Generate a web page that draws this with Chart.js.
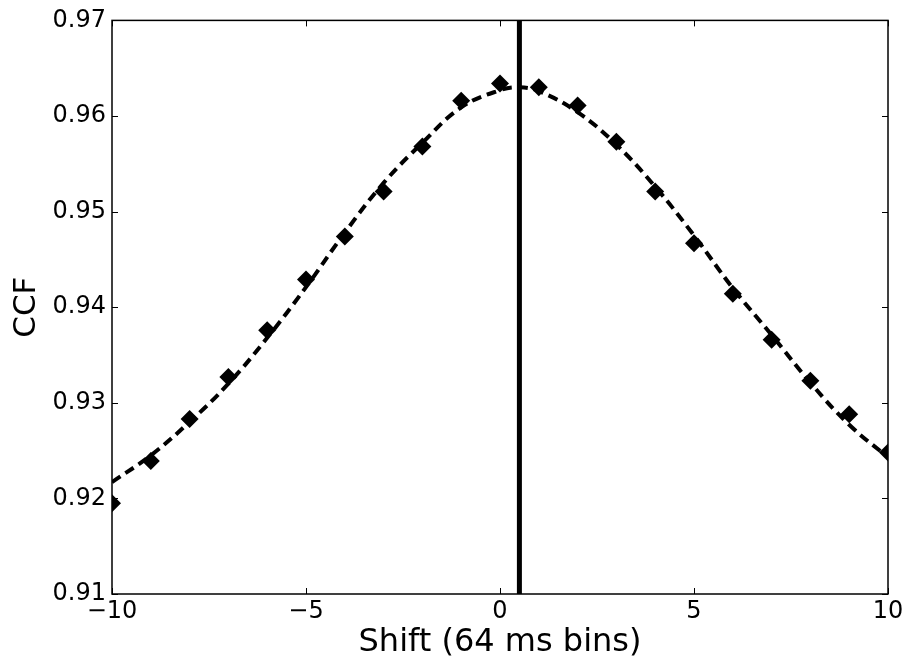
<!DOCTYPE html>
<html>
<head>
<meta charset="utf-8">
<script src="https://cdn.jsdelivr.net/npm/chart.js@4.4.1/dist/chart.umd.min.js"></script>
<style>
  html, body { margin: 0; padding: 0; background: #fff; }
  #wrap { width: 910px; height: 662px; }
</style>
</head>
<body>
<div id="wrap"><canvas id="c" width="910" height="662"></canvas></div>
<script>
// Measured CCF values at integer shifts
const shifts = [-10,-9,-8,-7,-6,-5,-4,-3,-2,-1,0,1,2,3,4,5,6,7,8,9,10];
const ccf = [0.9195,0.9239,0.9283,0.9327,0.9376,0.9429,0.9474,0.9521,0.9568,0.9616,0.9634,
             0.9630,0.9611,0.9573,0.9521,0.9467,0.9414,0.9366,0.9323,0.9288,0.9248];
// Dashed fit curve
const fitX = [-10,-9,-8,-7,-6,-5,-4,-3,-2,-1,0,0.5,1,2,3,4,5,6,7,8,9,10];
const fitY = [0.9217,0.9245,0.9280,0.9320,0.9368,0.9421,0.9478,0.9530,0.9572,0.9609,0.9627,0.9630,
              0.9626,0.9604,0.9570,0.9526,0.9475,0.9420,0.9371,0.9321,0.9277,0.9243];
// Vertical marker line
const markerX = [0.5, 0.5];
const markerY = [0.91, 0.97];
// Axis tick values
const xTicks = [-10,-5,0,5,10];
const yTicks = [0.91,0.92,0.93,0.94,0.95,0.96,0.97];

const FONT = "'DejaVu Sans', sans-serif";

const frame = {
  id: 'frame',
  afterDatasetsDraw(chart) {
    const {ctx, chartArea: a, scales} = chart;
    ctx.save();
    ctx.strokeStyle = '#000';
    ctx.lineWidth = 1;
    const L = 6;
    ctx.beginPath();
    scales.x.ticks.forEach(t => {
      const px = Math.round(scales.x.getPixelForValue(t.value)) + 0.5;
      ctx.moveTo(px, a.bottom); ctx.lineTo(px, a.bottom - L);
      ctx.moveTo(px, a.top); ctx.lineTo(px, a.top + L);
    });
    scales.y.ticks.forEach(t => {
      const py = Math.round(scales.y.getPixelForValue(t.value)) + 0.5;
      ctx.moveTo(a.left, py); ctx.lineTo(a.left + L, py);
      ctx.moveTo(a.right, py); ctx.lineTo(a.right - L, py);
    });
    ctx.stroke();
    ctx.lineWidth = 1.5;
    ctx.strokeRect(a.left, a.top, a.right - a.left, a.bottom - a.top);
    ctx.restore();
  }
};

new Chart(document.getElementById('c'), {
  type: 'scatter',
  data: {
    datasets: [
      {
        label: 'CCF',
        data: shifts.map((x, i) => ({x, y: ccf[i]})),
        pointStyle: 'rectRot',
        pointRadius: 9,
        backgroundColor: '#000',
        borderColor: '#000',
        borderWidth: 0,
        showLine: false,
        order: 1
      },
      {
        label: 'fit',
        data: fitX.map((x, i) => ({x, y: fitY[i]})),
        showLine: true,
        pointRadius: 0,
        borderColor: '#000',
        borderWidth: 4,
        borderDash: [10, 6],
        tension: 0.4,
        order: 3
      },
      {
        label: 'marker',
        data: markerX.map((x, i) => ({x, y: markerY[i]})),
        showLine: true,
        pointRadius: 0,
        borderColor: '#000',
        borderWidth: 5,
        order: 2
      }
    ]
  },
  options: {
    responsive: false,
    animation: false,
    layout: { padding: { top: 20, right: 22, left: 0, bottom: 0 } },
    plugins: { legend: { display: false }, tooltip: { enabled: false } },
    scales: {
      x: {
        type: 'linear',
        min: -10, max: 10,
        afterBuildTicks: s => { s.ticks = xTicks.map(v => ({value: v})); },
        afterFit: s => { s.height = 68; },
        grid: { display: false, drawTicks: false },
        border: { display: false },
        ticks: {
          color: '#000', padding: 3,
          font: { family: FONT, size: 24 },
          maxRotation: 0,
          callback: v => (v < 0 ? '\u2212' + Math.abs(v) : String(v))
        },
        title: {
          display: true, text: 'Shift (64 ms bins)', color: '#000',
          font: { family: FONT, size: 32 }, padding: { top: 0, bottom: 0 }
        }
      },
      y: {
        type: 'linear',
        min: 0.91, max: 0.97,
        afterBuildTicks: s => { s.ticks = yTicks.map(v => ({value: v})); },
        afterFit: s => { s.width = 112; },
        grid: { display: false, drawTicks: false },
        border: { display: false },
        ticks: {
          color: '#000', padding: 6,
          font: { family: FONT, size: 24 },
          callback: v => Number(v).toFixed(2)
        },
        title: {
          display: true, text: 'CCF', color: '#000',
          font: { family: FONT, size: 31 }, padding: { top: 8, bottom: 0 }
        }
      }
    }
  },
  plugins: [frame]
});
</script>
</body>
</html>
